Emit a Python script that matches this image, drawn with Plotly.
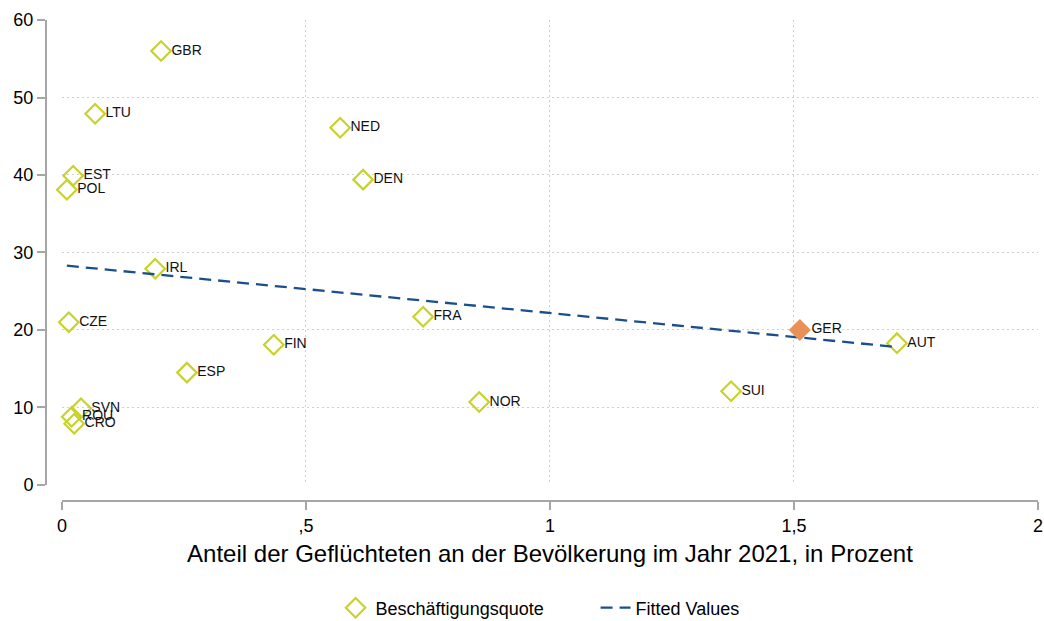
import plotly.graph_objects as go

# Ländercodes und Werte
laender = ["GBR", "LTU", "NED", "EST", "POL", "DEN", "IRL", "CZE", "FRA",
           "FIN", "ESP", "AUT", "SUI", "NOR", "SVN", "ROU", "CRO"]
anteil = [0.203, 0.068, 0.570, 0.023, 0.010, 0.617, 0.191, 0.014, 0.740,
          0.434, 0.256, 1.711, 1.371, 0.855, 0.039, 0.020, 0.025]
quote = [56.0, 47.9, 46.1, 39.9, 38.1, 39.4, 27.9, 21.0, 21.7,
         18.1, 14.5, 18.3, 12.1, 10.7, 9.9, 8.8, 7.9]

# Deutschland hervorgehoben
ger_anteil = [1.512]
ger_quote = [20.0]

fit_x = [0.010, 1.711]
fit_y = [28.3, 17.8]

x_ticks = [0, 0.5, 1, 1.5, 2]
x_ticktext = ["0", ",5", "1", "1,5", "2"]
y_ticks = [0, 10, 20, 30, 40, 50, 60]

gruen = "#c8d22c"
orange = "#ea9157"
blau = "#1b4f8c"
grau = "#a6a6a6"
gitter = "#cfcfcf"

fig = go.Figure()

fig.add_trace(go.Scatter(
    x=anteil, y=quote, mode="markers+text", text=laender,
    textposition="middle right", cliponaxis=False,
    textfont=dict(size=14, color="#111111"),
    marker=dict(symbol="diamond-open", size=15, color=gruen, line=dict(width=2.2, color=gruen)),
    name="Beschäftigungsquote",
))

fig.add_trace(go.Scatter(
    x=fit_x, y=fit_y, mode="lines",
    line=dict(color=blau, width=2.3, dash="12px,7px"),
    name="Fitted Values",
))

fig.add_trace(go.Scatter(
    x=ger_anteil, y=ger_quote, mode="markers+text", text=["GER"],
    textposition="middle right", cliponaxis=False,
    textfont=dict(size=14, color="#111111"),
    marker=dict(symbol="diamond", size=17, color=orange),
    showlegend=False,
))

fig.update_layout(
    width=1044, height=621,
    margin=dict(l=46, r=6, t=20, b=120, autoexpand=False),
    plot_bgcolor="white", paper_bgcolor="white",
    font=dict(family="Liberation Sans, Arial, sans-serif", color="black"),
    showlegend=True,
    legend=dict(orientation="h", x=0.554, xanchor="center", y=-0.2225, yanchor="middle",
                font=dict(size=18), itemwidth=30,
                entrywidthmode="pixels", entrywidth=215),
    xaxis=dict(
        domain=[0.0161, 1], range=[0, 2], anchor="free", position=0,
        tickvals=x_ticks, ticktext=x_ticktext, automargin=False,
        ticklabeloverflow="allow",
        showline=True, linecolor=grau, linewidth=2,
        ticks="outside", ticklen=8, tickcolor=grau, tickwidth=1.5,
        tickfont=dict(size=18),
        showgrid=True, gridcolor=gitter, griddash="2px,3px", gridwidth=1,
        zeroline=False,
        title=dict(text="Anteil der Geflüchteten an der Bevölkerung im Jahr 2021, in Prozent",
                   font=dict(size=24), standoff=10),
    ),
    yaxis=dict(
        domain=[0.0333, 1], range=[0, 60], anchor="free", position=0,
        tickvals=y_ticks, automargin=False,
        showline=True, linecolor=grau, linewidth=2,
        ticks="outside", ticklen=8, tickcolor=grau, tickwidth=1.5,
        tickfont=dict(size=18),
        showgrid=True, gridcolor=gitter, griddash="2px,3px", gridwidth=1,
        zeroline=False,
    ),
)

# Seitenrand entfernen, damit die Grafik genau ins Fenster passt
fig.write_html("out.html", config={"displayModeBar": False},
               post_script="document.body.style.margin='0';")
